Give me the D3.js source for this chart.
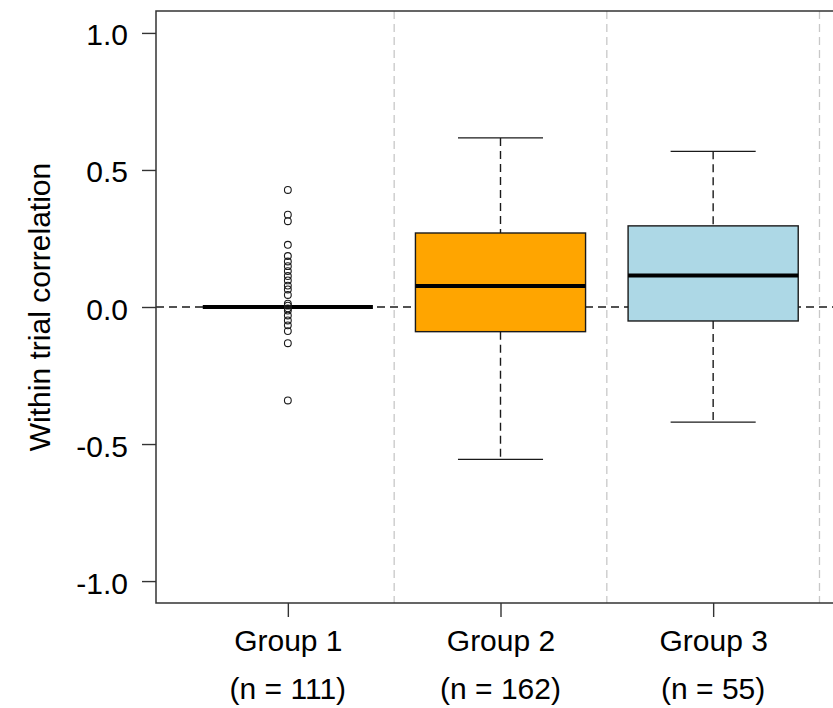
<!DOCTYPE html>
<html>
<head>
<meta charset="utf-8">
<script src="https://cdn.jsdelivr.net/npm/d3@7"></script>
<style>
  html, body { margin: 0; padding: 0; background: #fff; }
  svg text { font-family: "Liberation Sans", Arial, sans-serif; fill: #000; }
</style>
</head>
<body>
<svg id="chart" width="833" height="708"></svg>
<script>
// Group labels and sample sizes
const groups = ["Group 1", "Group 2", "Group 3"];
const counts = [111, 162, 55];
const fills = ["#ffffff", "#FFA500", "#ADD8E6"];

// Five-number summaries: lower whisker, Q1, median, Q3, upper whisker
const lowerWhisker = [0, -0.556, -0.420];
const q1 = [0, -0.090, -0.051];
const median = [0, 0.077, 0.115];
const q3 = [0, 0.270, 0.296];
const upperWhisker = [0, 0.617, 0.568];

// Outlying correlations for Group 1
const outliersG1 = [0.427, 0.337, 0.313, 0.227, 0.186, 0.166, 0.149, 0.131, 0.113,
  0.097, 0.078, 0.064, 0.044, 0.012, 0.005, -0.005, -0.013, -0.031, -0.049, -0.067,
  -0.088, -0.132, -0.341];

const yTicks = [-1.0, -0.5, 0.0, 0.5, 1.0];

const svg = d3.select("#chart");
const plotLeft = 156, plotTop = 11, plotBottom = 603, plotRight = 845;
const fontSize = "30px";

const x = d3.scaleLinear().domain([0.38, 3.62]).range([plotLeft, plotRight]);
const y = d3.scaleLinear().domain([-1.08, 1.08]).range([plotBottom, plotTop]);

const boxHalf = 0.4, capHalf = 0.2;
const ink = "#1a1a1a";

// Group separators
svg.append("g").selectAll("line").data([1.5, 2.5, 3.5]).join("line")
  .attr("x1", d => x(d)).attr("x2", d => x(d))
  .attr("y1", plotTop).attr("y2", plotBottom)
  .attr("stroke", "#c8c8c8").attr("stroke-width", 1.3)
  .attr("stroke-dasharray", "8,5");

// Zero reference line
svg.append("line")
  .attr("x1", plotLeft).attr("x2", plotRight)
  .attr("y1", y(0)).attr("y2", y(0))
  .attr("stroke", ink).attr("stroke-width", 1.4)
  .attr("stroke-dasharray", "8,5");

const boxes = svg.append("g").selectAll("g").data(groups).join("g");

// Whiskers (dashed) and caps
boxes.append("line")
  .attr("x1", (d, i) => x(i + 1)).attr("x2", (d, i) => x(i + 1))
  .attr("y1", (d, i) => y(upperWhisker[i])).attr("y2", (d, i) => y(q3[i]))
  .attr("stroke", ink).attr("stroke-width", 1.4).attr("stroke-dasharray", "8,5");
boxes.append("line")
  .attr("x1", (d, i) => x(i + 1)).attr("x2", (d, i) => x(i + 1))
  .attr("y1", (d, i) => y(q1[i])).attr("y2", (d, i) => y(lowerWhisker[i]))
  .attr("stroke", ink).attr("stroke-width", 1.4).attr("stroke-dasharray", "8,5");
[upperWhisker, lowerWhisker].forEach(arr => {
  boxes.append("line")
    .attr("x1", (d, i) => x(i + 1 - capHalf)).attr("x2", (d, i) => x(i + 1 + capHalf))
    .attr("y1", (d, i) => y(arr[i])).attr("y2", (d, i) => y(arr[i]))
    .attr("stroke", ink).attr("stroke-width", 1.4);
});

// Boxes
boxes.filter((d, i) => q3[i] > q1[i]).append("rect")
  .attr("x", d => x(groups.indexOf(d) + 1 - boxHalf))
  .attr("width", d => x(groups.indexOf(d) + 1 + boxHalf) - x(groups.indexOf(d) + 1 - boxHalf))
  .attr("y", d => y(q3[groups.indexOf(d)]))
  .attr("height", d => y(q1[groups.indexOf(d)]) - y(q3[groups.indexOf(d)]))
  .attr("fill", d => fills[groups.indexOf(d)])
  .attr("stroke", ink).attr("stroke-width", 1.4);

// Outliers
svg.append("g").selectAll("circle").data(outliersG1).join("circle")
  .attr("cx", x(1)).attr("cy", d => y(d)).attr("r", 3.4)
  .attr("fill", "none").attr("stroke", ink).attr("stroke-width", 1.1);

// Medians
boxes.append("line")
  .attr("x1", (d, i) => x(i + 1 - boxHalf)).attr("x2", (d, i) => x(i + 1 + boxHalf))
  .attr("y1", (d, i) => y(median[i])).attr("y2", (d, i) => y(median[i]))
  .attr("stroke", "#000").attr("stroke-width", 4);

// Plot frame (left, top, bottom)
svg.append("path")
  .attr("d", `M${plotRight},${plotTop}H${plotLeft}V${plotBottom}H${plotRight}`)
  .attr("fill", "none").attr("stroke", "#333").attr("stroke-width", 1.5);

// Y axis, hyphen-minus for negative labels
const fmt = d => d3.format(".1f")(d).replace("\u2212", "-");
const yAxis = svg.append("g").attr("transform", `translate(${plotLeft},0)`)
  .call(d3.axisLeft(y).tickValues(yTicks).tickFormat(fmt).tickSize(14).tickPadding(14));
yAxis.select(".domain").remove();
yAxis.selectAll("line").attr("stroke", "#333").attr("stroke-width", 1.4);
yAxis.selectAll("text").style("font-size", fontSize).attr("dy", "0.4em");

// X axis
const xAxis = svg.append("g").attr("transform", `translate(0,${plotBottom})`)
  .call(d3.axisBottom(x).tickValues([1, 2, 3]).tickFormat((d) => groups[d - 1]).tickSize(14).tickPadding(13));
xAxis.select(".domain").remove();
xAxis.selectAll("line").attr("stroke", "#333").attr("stroke-width", 1.4);
xAxis.selectAll("text").style("font-size", fontSize);

// Sample sizes under group labels
svg.append("g").selectAll("text").data(counts).join("text")
  .attr("x", (d, i) => x(i + 1)).attr("y", 699)
  .attr("text-anchor", "middle").style("font-size", fontSize)
  .text(d => `(n = ${d})`);

// Y axis title
svg.append("text")
  .attr("transform", `translate(50,${y(0)}) rotate(-90)`)
  .attr("text-anchor", "middle").style("font-size", fontSize)
  .text("Within trial correlation");
</script>
</body>
</html>
